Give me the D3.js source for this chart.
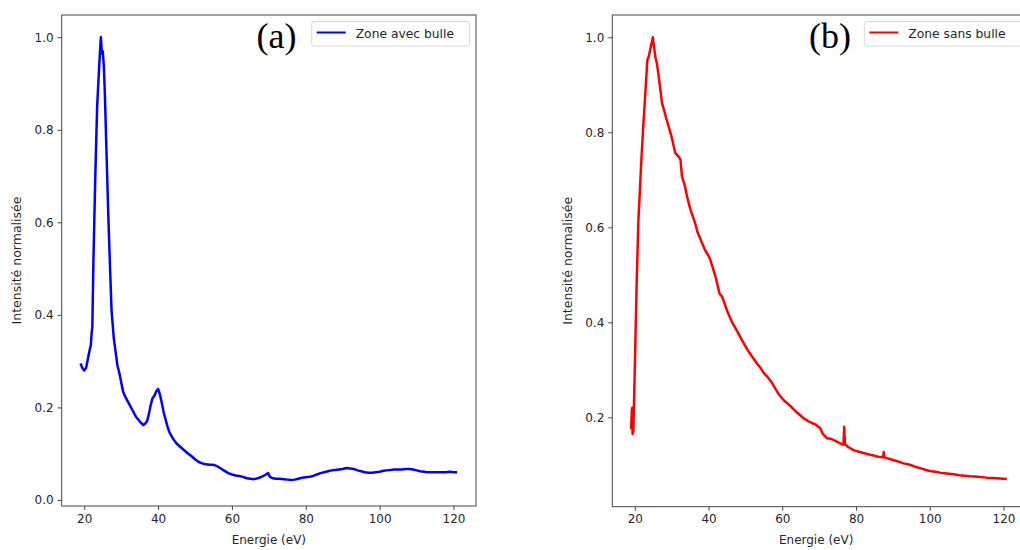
<!DOCTYPE html>
<html>
<head>
<meta charset="utf-8">
<script src="https://cdn.jsdelivr.net/npm/d3@7"></script>
<style>
  html, body { margin: 0; padding: 0; background: #fff; }
  svg { display: block; font-family: "DejaVu Sans", sans-serif; }
</style>
</head>
<body>
<svg id="chart" width="1020" height="550"></svg>
<script>
// ---- Data ----
const energyA = [19.0,19.5,20.0,20.5,21.0,21.5,21.8,22.0,22.2,22.5,23.0,23.5,24.0,24.5,24.8,25.0,25.3,25.6,26.0,26.5,27.0,27.4,28.0,28.5,29.0,29.5,30.0,30.5,31.0,32.0,33.0,34.0,35.0,36.0,36.5,37.0,37.5,38.0,38.5,39.0,39.5,40.0,40.5,41.0,41.5,42.0,42.5,43.0,43.5,44.0,45.0,46.0,47.0,48.0,49.0,50.0,51.0,52.0,53.0,54.0,55.0,56.0,57.0,58.0,59.0,60.0,61.0,62.0,63.0,64.0,65.0,66.0,67.0,68.0,69.0,69.8,70.3,71.0,72.0,73.0,74.0,75.0,76.0,77.0,78.0,79.0,80.0,81.0,82.0,83.0,84.0,85.0,86.0,87.0,88.0,89.0,90.0,91.0,92.0,93.0,94.0,95.0,96.0,97.0,98.0,99.0,100.0,101.0,102.0,103.0,104.0,105.0,106.0,107.0,108.0,109.0,110.0,111.0,112.0,113.0,114.0,115.0,116.0,117.0,118.0,119.0,120.0,121.0];
const intensityA = [0.295,0.285,0.280,0.285,0.305,0.325,0.335,0.360,0.375,0.520,0.700,0.850,0.930,1.000,0.965,0.970,0.940,0.875,0.760,0.620,0.500,0.410,0.350,0.320,0.290,0.275,0.255,0.235,0.225,0.210,0.195,0.180,0.170,0.162,0.165,0.170,0.185,0.205,0.220,0.225,0.235,0.240,0.228,0.210,0.190,0.175,0.160,0.148,0.140,0.133,0.122,0.115,0.108,0.101,0.095,0.088,0.082,0.079,0.077,0.076,0.076,0.073,0.068,0.063,0.058,0.055,0.053,0.052,0.050,0.047,0.046,0.045,0.047,0.050,0.054,0.058,0.050,0.047,0.046,0.046,0.045,0.044,0.043,0.044,0.046,0.048,0.049,0.050,0.052,0.055,0.058,0.060,0.062,0.064,0.065,0.066,0.067,0.069,0.068,0.067,0.064,0.062,0.060,0.059,0.059,0.060,0.061,0.063,0.064,0.065,0.066,0.066,0.066,0.067,0.067,0.066,0.064,0.062,0.061,0.060,0.060,0.060,0.060,0.060,0.060,0.061,0.060,0.060];

const energyB = [19.0,19.2,19.3,19.4,19.6,20.0,20.5,21.0,21.3,21.8,22.4,23.0,23.4,23.8,24.2,24.9,25.3,25.6,26.0,26.5,27.0,27.4,28.0,28.5,29.2,30.0,31.0,32.0,32.4,32.8,33.5,34.2,35.0,36.0,36.4,37.0,38.3,39.0,40.0,40.5,41.9,43.0,43.7,45.0,46.4,47.5,49.1,50.5,51.8,53.0,54.0,55.0,56.0,57.0,58.0,59.0,60.4,62.0,64.0,65.8,67.0,68.0,69.0,70.3,71.0,72.1,73.0,74.0,75.0,75.7,76.6,76.8,77.0,78.0,79.3,81.0,82.0,83.9,85.0,86.0,87.4,87.5,87.7,88.4,90.0,91.0,92.9,94.0,95.0,96.0,97.4,99.0,100.0,101.9,103.0,104.0,106.4,108.0,110.9,113.0,115.4,117.0,119.0,120.9];
const intensityB = [0.175,0.215,0.220,0.165,0.170,0.300,0.480,0.620,0.665,0.745,0.826,0.900,0.952,0.960,0.975,1.000,0.975,0.958,0.945,0.917,0.885,0.861,0.845,0.830,0.812,0.790,0.756,0.748,0.742,0.707,0.690,0.664,0.640,0.617,0.608,0.590,0.566,0.553,0.540,0.531,0.496,0.460,0.454,0.425,0.400,0.385,0.362,0.343,0.328,0.315,0.305,0.293,0.285,0.275,0.262,0.249,0.236,0.225,0.210,0.198,0.192,0.188,0.185,0.177,0.165,0.156,0.155,0.152,0.148,0.145,0.142,0.180,0.143,0.137,0.131,0.127,0.125,0.121,0.119,0.117,0.116,0.127,0.116,0.114,0.110,0.108,0.103,0.101,0.099,0.096,0.093,0.089,0.087,0.085,0.083,0.082,0.080,0.078,0.076,0.075,0.073,0.072,0.071,0.070];

const xTickValues = [20, 40, 60, 80, 100, 120];
const yTicksA = [0.0, 0.2, 0.4, 0.6, 0.8, 1.0];
const yTicksB = [0.2, 0.4, 0.6, 0.8, 1.0];
const seriesNames = ["Zone avec bulle", "Zone sans bulle"];
const panelLabels = ["(a)", "(b)"];
const xLabel = "Energie (eV)";
const yLabel = "Intensité normalisée";

// ---- Layout ----
const svg = d3.select("#chart");
svg.append("rect").attr("width", 1020).attr("height", 550).attr("fill", "#fff");

const panels = [
  { energy: energyA, intensity: intensityA, yTicks: yTicksA, color: "#0000ff",
    name: seriesNames[0], label: panelLabels[0],
    left: 61.7, right: 476, top: 15, bottom: 506,
    xDomain: [13.9, 126.1], yDomain: [-0.013, 1.048],
    labelX: 256.5, legendX: 311.7, legendW: 158, ylabX: 17 },
  { energy: energyB, intensity: intensityB, yTicks: yTicksB, color: "#ff0000",
    name: seriesNames[1], label: panelLabels[1],
    left: 612.3, right: 1026, top: 15, bottom: 506.7,
    xDomain: [13.9, 126.1], yDomain: [0.0118, 1.047],
    labelX: 809, legendX: 864.3, legendW: 170, ylabX: 568 }
];

const textColor = "#262626";
const spineColor = "#444";

panels.forEach((p, i) => {
  const x = d3.scaleLinear().domain(p.xDomain).range([p.left, p.right]);
  const y = d3.scaleLinear().domain(p.yDomain).range([p.bottom, p.top]);
  const g = svg.append("g");

  const clipId = "clip" + i;
  svg.append("clipPath").attr("id", clipId).append("rect")
    .attr("x", p.left).attr("y", p.top)
    .attr("width", p.right - p.left).attr("height", p.bottom - p.top);

  // data line
  const pts = p.energy.map((e, k) => [e, p.intensity[k]]);
  const line = d3.line().x(d => x(d[0])).y(d => y(d[1]));
  g.append("path").datum(pts)
    .attr("clip-path", `url(#${clipId})`)
    .attr("d", line)
    .attr("fill", "none")
    .attr("stroke", p.color)
    .attr("stroke-width", 2.5)
    .attr("stroke-linejoin", "round");

  // frame
  g.append("rect")
    .attr("x", p.left).attr("y", p.top)
    .attr("width", p.right - p.left).attr("height", p.bottom - p.top)
    .attr("fill", "none").attr("stroke", spineColor).attr("stroke-width", 1);

  // axes
  const xAxis = d3.axisBottom(x).tickValues(xTickValues).tickFormat(d3.format("d"))
    .tickSize(4).tickPadding(4);
  const gx = g.append("g").attr("transform", `translate(0,${p.bottom})`).call(xAxis);
  const yAxis = d3.axisLeft(y).tickValues(p.yTicks).tickFormat(d3.format(".1f"))
    .tickSize(4).tickPadding(4);
  const gy = g.append("g").attr("transform", `translate(${p.left},0)`).call(yAxis);
  [gx, gy].forEach(ax => {
    ax.select(".domain").remove();
    ax.selectAll(".tick line").attr("stroke", spineColor);
    ax.selectAll(".tick text").attr("fill", textColor)
      .style("font-family", "DejaVu Sans").style("font-size", "12px");
  });

  // axis labels
  g.append("text")
    .attr("x", (p.left + p.right) / 2 - (i === 1 ? 3 : 0)).attr("y", 544)
    .attr("text-anchor", "middle").attr("fill", textColor)
    .style("font-size", "12px").text(xLabel);
  g.append("text")
    .attr("transform", `translate(${p.ylabX},${(p.top + p.bottom) / 2}) rotate(-90)`)
    .attr("text-anchor", "middle").attr("dy", "0.35em").attr("fill", textColor)
    .style("font-size", "12.5px").text(yLabel);

  // panel label (a)/(b)
  g.append("text")
    .attr("x", p.labelX).attr("y", 48)
    .attr("fill", "#000")
    .style("font-family", "'Liberation Serif', 'Times New Roman', serif")
    .style("font-size", "36px").text(p.label);

  // legend
  const lg = g.append("g");
  lg.append("rect")
    .attr("x", p.legendX).attr("y", 21.5)
    .attr("width", p.legendW).attr("height", 24.5)
    .attr("rx", 2.5).attr("fill", "#fff").attr("fill-opacity", 0.8)
    .attr("stroke", "#d9d9d9").attr("stroke-width", 1);
  lg.append("line")
    .attr("x1", p.legendX + 5).attr("x2", p.legendX + 34)
    .attr("y1", 32.5).attr("y2", 32.5)
    .attr("stroke", p.color).attr("stroke-width", 2);
  lg.append("text")
    .attr("x", p.legendX + 44).attr("y", 37.5)
    .attr("fill", textColor).style("font-size", "12.3px").text(p.name);
});
</script>
</body>
</html>
